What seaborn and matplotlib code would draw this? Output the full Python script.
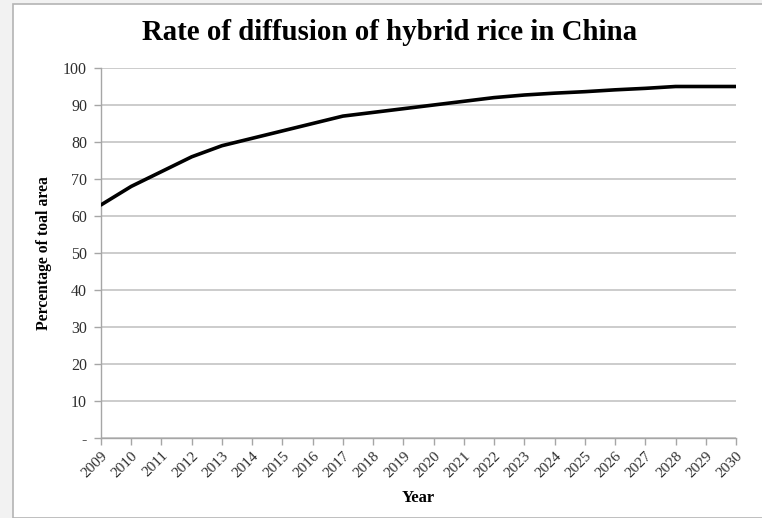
import matplotlib
matplotlib.use("Agg")
import matplotlib.pyplot as plt
from matplotlib.patches import Rectangle
import seaborn as sns
import pandas as pd

years = list(range(2009, 2031))
diffusion_pct = [63, 68, 72, 76, 79, 81, 83, 85, 87, 88, 89, 90, 91, 92,
                 92.7, 93.2, 93.6, 94.1, 94.5, 95, 95, 95]
y_ticks = [0, 10, 20, 30, 40, 50, 60, 70, 80, 90, 100]
y_tick_labels = ["-", "10", "20", "30", "40", "50", "60", "70", "80", "90", "100"]

df = pd.DataFrame({"Year": years, "Percentage": diffusion_pct})

sns.set_theme(style="white")
plt.rcParams["font.family"] = ["Liberation Serif", "DejaVu Serif"]

W, H = 762, 518
fig = plt.figure(figsize=(W / 100, H / 100), dpi=100, facecolor="#f2f2f2")

# white chart sheet with a thin gray frame, kept behind the axes
sheet = Rectangle((13 / W, 0), 1, 1 - 4 / H, transform=fig.transFigure,
                  facecolor="white", edgecolor="#b4b4b4", linewidth=1.2,
                  zorder=-10)
fig.add_artist(sheet)

ax = fig.add_axes([101 / W, 1 - 438 / H, (736 - 101) / W, (438 - 68) / H])
ax.set_zorder(1)
ax.set_facecolor("white")

sns.lineplot(data=df, x="Year", y="Percentage", ax=ax, color="black",
             linewidth=2.6, zorder=3)

ax.set_xlim(2009, 2030)
ax.set_ylim(0, 100)
ax.set_yticks(y_ticks)
ax.set_yticklabels(y_tick_labels)
ax.set_xticks(years)
ax.set_xticklabels([str(y) for y in years], rotation=45, ha="right",
                   rotation_mode="anchor")

ax.yaxis.grid(True, color="#c8c8c8", linewidth=1.3)
ax.xaxis.grid(False)
for side in ["top", "right"]:
    ax.spines[side].set_visible(False)
for side in ["left", "bottom"]:
    ax.spines[side].set_color("#a6a6a6")
    ax.spines[side].set_linewidth(1.0)

ax.tick_params(axis="y", which="major", left=True, length=5, width=1.0,
               color="#a6a6a6", labelsize=11.5, labelcolor="#2e2e2e", pad=5)
ax.tick_params(axis="x", which="major", bottom=True, length=5, width=1.0,
               color="#a6a6a6", labelsize=11, labelcolor="#2e2e2e", pad=3)

ax.set_xlabel("Year", fontsize=12, fontweight="bold", labelpad=7, color="black")
ax.set_ylabel("Percentage of toal area", fontsize=11.3, fontweight="bold",
              labelpad=8, color="black")

fig.text(390 / W, 1 - 33 / H, "Rate of diffusion of hybrid rice in China",
         ha="center", va="center", fontsize=20.8, fontweight="bold", color="black")

fig.savefig("out.png", dpi=100, facecolor=fig.get_facecolor())
